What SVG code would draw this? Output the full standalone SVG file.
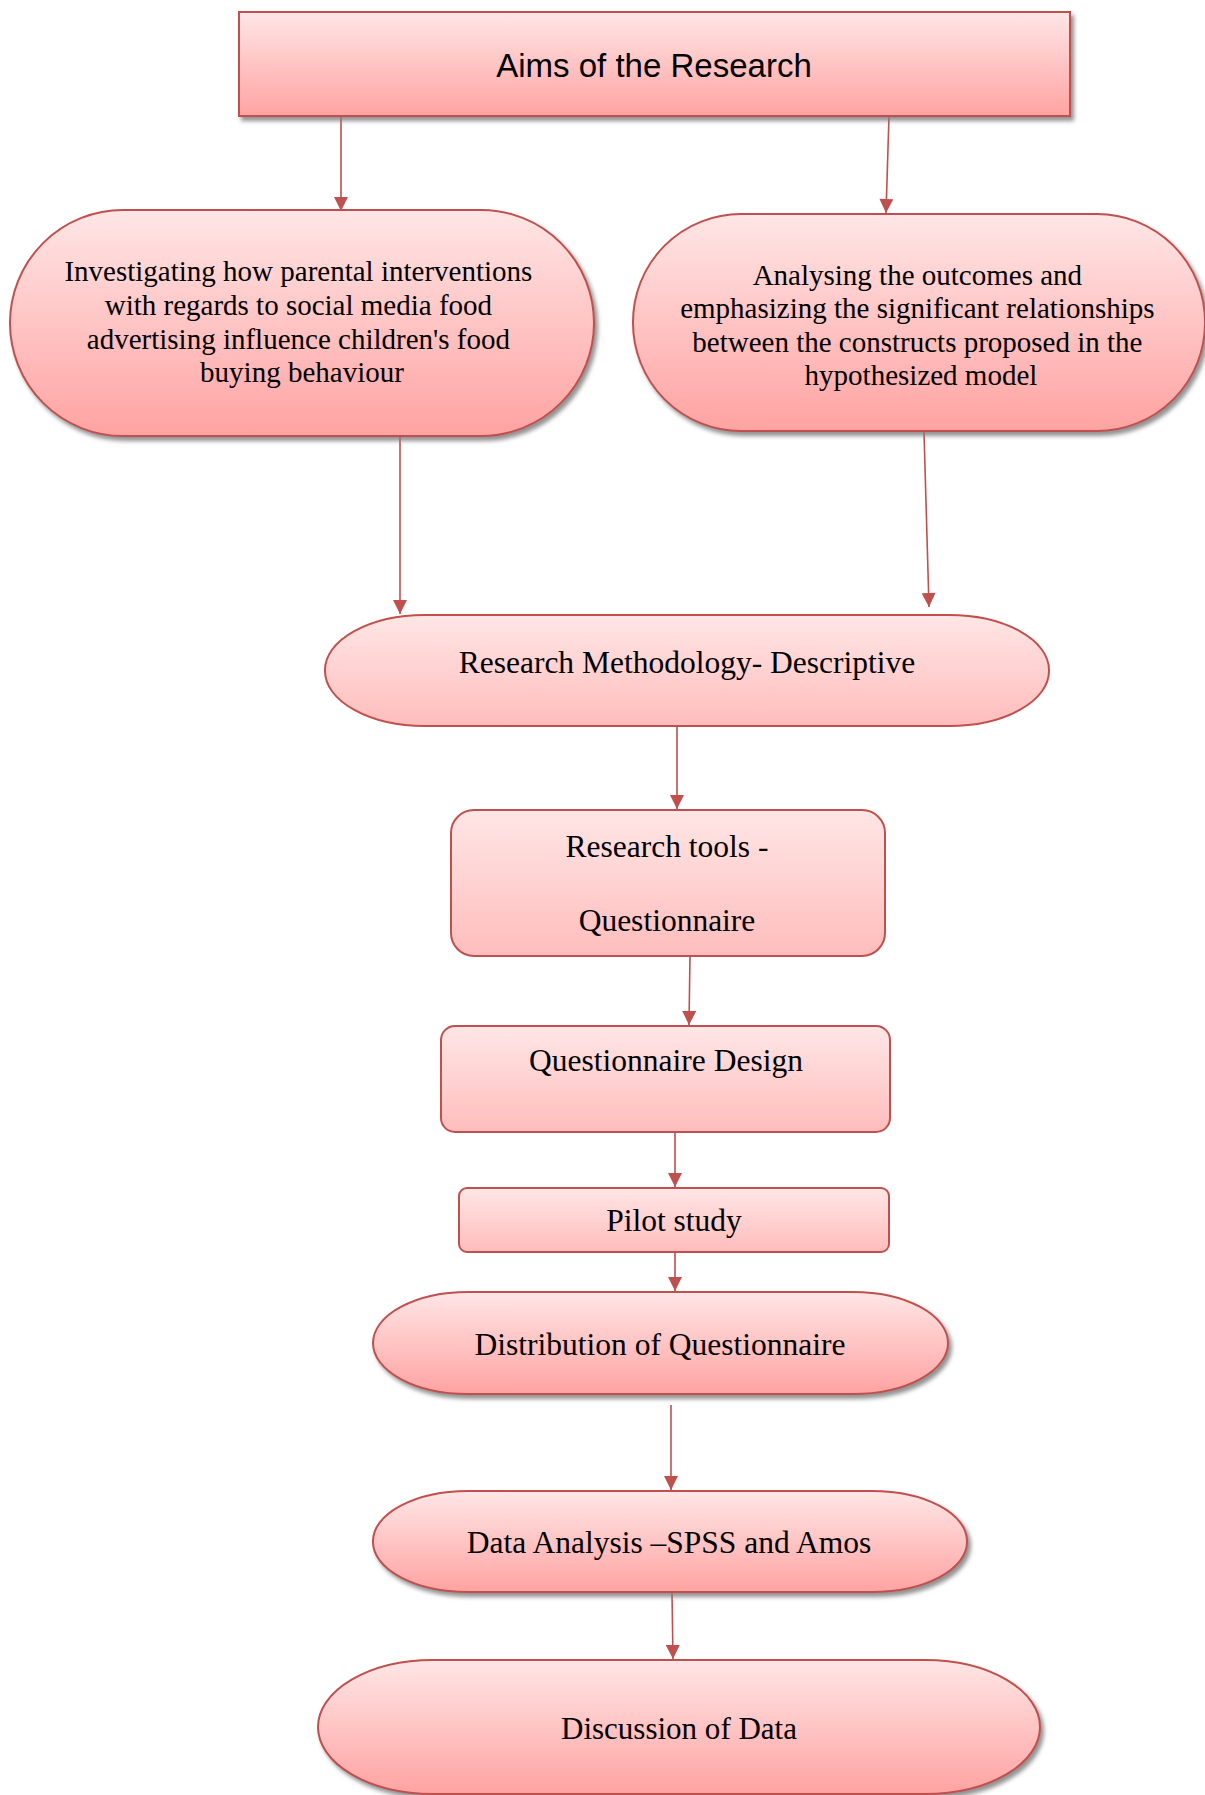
<svg xmlns="http://www.w3.org/2000/svg" width="1205" height="1795" viewBox="0 0 1205 1795">
<style>
.n{stroke:#C0504D;stroke-width:2;}
.g1{fill:url(#gA);}
.g2{fill:url(#gB);}
.sh{filter:url(#ds);}
.t{font-family:"Liberation Serif","Times New Roman",serif;fill:#000;text-anchor:middle;}
.c{stroke:#C0504D;stroke-width:1.6;fill:none;marker-end:url(#arr);}
</style>
<defs>
<linearGradient id="gA" x1="0" y1="0" x2="0" y2="1">
<stop offset="0" stop-color="#FFE6E6"/>
<stop offset="1" stop-color="#FFA3A2"/>
</linearGradient>
<linearGradient id="gB" x1="0" y1="0" x2="0" y2="1">
<stop offset="0" stop-color="#FFE6E6"/>
<stop offset="1" stop-color="#FFBDBC"/>
</linearGradient>
<filter id="ds" x="-5%" y="-10%" width="115%" height="130%">
<feDropShadow dx="3" dy="4" stdDeviation="2" flood-color="#7f7f7f" flood-opacity="0.85"/>
</filter>
<marker id="arr" markerWidth="15" markerHeight="14" refX="14" refY="7" orient="auto" markerUnits="userSpaceOnUse" viewBox="0 0 14 14">
<path d="M0,0 L14,7 L0,14 Z" fill="#C0504D"/>
</marker>
</defs>

<g id="connectors">
<line class="c" x1="341" y1="116" x2="341" y2="211"/>
<line class="c" x1="889" y1="116" x2="886" y2="213"/>
<line class="c" x1="400" y1="437" x2="400" y2="614"/>
<line class="c" x1="924" y1="432" x2="929" y2="607"/>
<line class="c" x1="677" y1="727" x2="677" y2="809"/>
<line class="c" x1="690" y1="956" x2="689" y2="1025"/>
<line class="c" x1="675" y1="1132" x2="675" y2="1187"/>
<line class="c" x1="675" y1="1252" x2="675" y2="1291"/>
<line class="c" x1="671" y1="1405" x2="671" y2="1490"/>
<line class="c" x1="672" y1="1593" x2="673" y2="1659"/>
</g>

<g id="aims">
<rect class="n g1 sh" x="239" y="12" width="831" height="104"/>
<text x="654" y="77" font-family="'Liberation Sans',Arial,sans-serif" font-size="33" text-anchor="middle" fill="#000">Aims of the Research</text>
</g>

<g id="aim1">
<rect class="n g1 sh" x="10" y="210" width="584" height="226" rx="113" ry="113"/>
<text class="t" font-size="29">
<tspan x="302" y="281">Investigating how parental interventions</tspan>
<tspan x="302" y="315">with regards to social media food</tspan>
<tspan x="302" y="349">advertising influence children's food</tspan>
<tspan x="302" y="382">buying behaviour</tspan>
</text>
</g>

<g id="aim2">
<rect class="n g1 sh" x="633" y="214" width="572" height="217" rx="108" ry="108"/>
<text class="t" font-size="29">
<tspan x="921" y="285">Analysing the outcomes and</tspan>
<tspan x="921" y="318">emphasizing the significant relationships</tspan>
<tspan x="921" y="352">between the constructs proposed in the</tspan>
<tspan x="921" y="385">hypothesized model</tspan>
</text>
</g>

<g id="methodology">
<rect class="n g2" x="325" y="615" width="724" height="111" rx="100" ry="55"/>
<text class="t" font-size="31.5" x="687" y="673">Research Methodology- Descriptive</text>
</g>

<g id="tools">
<rect class="n g2" x="451" y="810" width="434" height="146" rx="23" ry="23"/>
<text class="t" font-size="31.5" x="667" y="857">Research tools -</text>
<text class="t" font-size="31.5" x="667" y="931">Questionnaire</text>
</g>

<g id="design">
<rect class="n g2" x="441" y="1026" width="449" height="106" rx="14" ry="14"/>
<text class="t" font-size="31.5" x="666" y="1071">Questionnaire Design</text>
</g>

<g id="pilot">
<rect class="n g2" x="459" y="1188" width="430" height="64" rx="8" ry="8"/>
<text class="t" font-size="31.5" x="674" y="1231">Pilot study</text>
</g>

<g id="distribution">
<rect class="n g1 sh" x="373" y="1292" width="575" height="102" rx="95" ry="51"/>
<text class="t" font-size="31.5" x="660" y="1355">Distribution of Questionnaire</text>
</g>

<g id="analysis">
<rect class="n g1 sh" x="373" y="1491" width="594" height="101" rx="95" ry="50"/>
<text class="t" font-size="31.5" x="669" y="1553">Data Analysis –SPSS and Amos</text>
</g>

<g id="discussion">
<rect class="n g1 sh" x="318" y="1660" width="722" height="134" rx="115" ry="67"/>
<text class="t" font-size="31" x="679" y="1739" textLength="236" lengthAdjust="spacingAndGlyphs">Discussion of Data</text>
</g>
</svg>
